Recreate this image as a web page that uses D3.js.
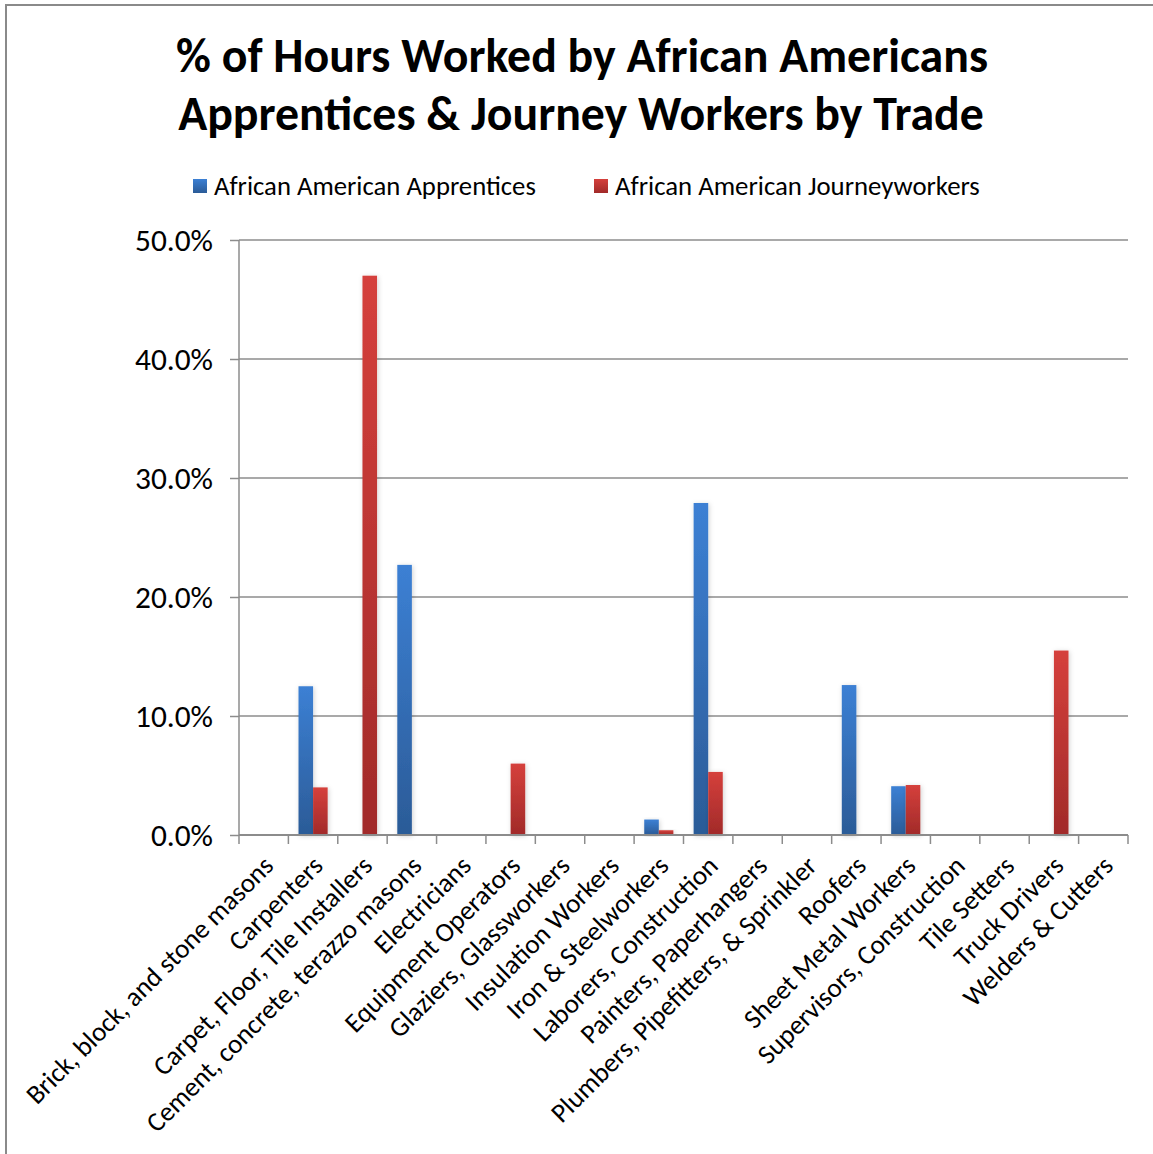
<!DOCTYPE html>
<html>
<head>
<meta charset="utf-8">
<script src="https://cdnjs.cloudflare.com/ajax/libs/d3/7.8.5/d3.min.js"></script>
<style>
  html, body { margin: 0; padding: 0; background: #fff; }
  svg { display: block; }
  text { font-family: Carlito, Calibri, Lato, "Open Sans", sans-serif; fill: #000; }
</style>
</head>
<body>
<svg id="chart" width="1153" height="1154"></svg>
<script>
// Trades along the horizontal axis
const trades = [
  "Brick, block, and stone masons",
  "Carpenters",
  "Carpet, Floor, Tile Installers",
  "Cement, concrete, terazzo masons",
  "Electricians",
  "Equipment Operators",
  "Glaziers, Glassworkers",
  "Insulation Workers",
  "Iron & Steelworkers",
  "Laborers, Construction",
  "Painters, Paperhangers",
  "Plumbers, Pipefitters, & Sprinkler",
  "Roofers",
  "Sheet Metal Workers",
  "Supervisors, Construction",
  "Tile Setters",
  "Truck Drivers",
  "Welders & Cutters"
];

// Share of hours worked (%), one value per trade
const apprentices = [0, 12.5, 0, 22.7, 0, 0, 0, 0, 1.3, 27.9, 0, 0, 12.6, 4.1, 0, 0, 0, 0];
const journeyworkers = [0, 4.0, 47.0, 0, 0, 6.0, 0, 0, 0.4, 5.3, 0, 0, 0, 4.2, 0, 0, 15.5, 0];

const seriesNames = ["African American Apprentices", "African American Journeyworkers"];
const yTicks = [0, 10, 20, 30, 40, 50];
const titleLines = ["% of Hours Worked by African Americans", "Apprentices & Journey Workers by Trade"];

const svg = d3.select("#chart");
const W = 1153, H = 1154;
const plot = { left: 239, right: 1128, top: 240, bottom: 835 };

// gradients for the two series
const defs = svg.append("defs");
const grads = [
  { id: "gA", top: "#3c80d4", bottom: "#2b5b97" },
  { id: "gJ", top: "#d5403c", bottom: "#a12a29" }
];
grads.forEach(g => {
  const lg = defs.append("linearGradient").attr("id", g.id)
    .attr("x1", 0).attr("y1", 0).attr("x2", 0).attr("y2", 1);
  lg.append("stop").attr("offset", "0%").attr("stop-color", g.top);
  lg.append("stop").attr("offset", "100%").attr("stop-color", g.bottom);
});
const shadow = defs.append("filter").attr("id", "shadow")
  .attr("x", "-50%").attr("y", "-10%").attr("width", "200%").attr("height", "120%");
shadow.append("feDropShadow").attr("dx", 1).attr("dy", 1).attr("stdDeviation", 2.5)
  .attr("flood-color", "#000").attr("flood-opacity", 0.18);

// outer frame (top and left edges)
svg.append("path")
  .attr("d", `M6,${H} L6,5 L${W},5`)
  .attr("fill", "none").attr("stroke", "#8a8a8a").attr("stroke-width", 2);

// helper to fit text to a target width
function fitWidth(sel, target) {
  const w = sel.node().getComputedTextLength();
  const fs = parseFloat(sel.attr("font-size"));
  sel.attr("font-size", fs * target / w);
}

// title
const t1 = svg.append("text").attr("x", 582).attr("y", 72).attr("text-anchor", "middle")
  .attr("font-size", 40).attr("font-weight", "bold").text(titleLines[0]);
fitWidth(t1, 812);
const t2 = svg.append("text").attr("x", 581).attr("y", 130).attr("text-anchor", "middle")
  .attr("font-size", 40).attr("font-weight", "bold").text(titleLines[1]);
fitWidth(t2, 806);

// scales
const x0 = d3.scaleBand().domain(trades).range([plot.left, plot.right]).padding(0);
const bw = x0.bandwidth();
const x1 = d3.scaleBand().domain(seriesNames).range([bw * 0.205, bw * 0.795]).padding(0);
const y = d3.scaleLinear().domain([0, 50]).range([plot.bottom, plot.top]);

// gridlines
svg.append("g").selectAll("line").data(yTicks.filter(d => d > 0)).join("line")
  .attr("x1", plot.left).attr("x2", plot.right)
  .attr("y1", d => y(d)).attr("y2", d => y(d))
  .attr("stroke", "#8c8c8c").attr("stroke-width", 1.5);

// y axis
const yAxis = svg.append("g").attr("transform", `translate(${plot.left},0)`)
  .call(d3.axisLeft(y).tickValues(yTicks).tickSize(9).tickPadding(17)
    .tickFormat(d => d3.format(".1f")(d) + "%"));
yAxis.select(".domain").attr("stroke", "#8c8c8c").attr("stroke-width", 1.5)
  .attr("d", `M0,${plot.top}V${plot.bottom}`);
yAxis.selectAll(".tick line").attr("stroke", "#8c8c8c").attr("stroke-width", 1.5);
yAxis.selectAll(".tick text").attr("font-size", 22).attr("fill", "#000")
  .attr("font-family", "Carlito, Calibri, Lato, sans-serif");
{
  const s = yAxis.select(".tick:last-of-type text");
  const w = s.node().getComputedTextLength();
  const fs = 22 * 78 / w;
  yAxis.selectAll(".tick text").attr("font-size", fs);
}

// bars
const rows = trades.map((t, i) => ({ trade: t, vals: [apprentices[i], journeyworkers[i]] }));
const groups = svg.append("g").selectAll("g").data(rows).join("g")
  .attr("transform", d => `translate(${x0(d.trade)},0)`);
groups.selectAll("rect")
  .data(d => d.vals.map((v, k) => ({ key: seriesNames[k], v, k })).filter(e => e.v > 0))
  .join("rect")
  .attr("x", e => x1(e.key))
  .attr("width", x1.bandwidth())
  .attr("y", e => y(e.v))
  .attr("height", e => y(0) - y(e.v))
  .attr("fill", e => `url(#${grads[e.k].id})`)
  .attr("filter", "url(#shadow)");

// x axis baseline and category boundary ticks
const xg = svg.append("g");
xg.append("line").attr("x1", plot.left).attr("x2", plot.right)
  .attr("y1", plot.bottom).attr("y2", plot.bottom)
  .attr("stroke", "#8c8c8c").attr("stroke-width", 2);
const bounds = trades.map(t => x0(t)).concat([plot.right]);
xg.selectAll("line.tk").data(bounds).join("line").attr("class", "tk")
  .attr("x1", d => d).attr("x2", d => d)
  .attr("y1", plot.bottom).attr("y2", plot.bottom + 9)
  .attr("stroke", "#8c8c8c").attr("stroke-width", 1.5);

// rotated category labels
const lbl = xg.selectAll("text.cat").data(trades).join("text").attr("class", "cat")
  .attr("font-size", 22)
  .attr("text-anchor", "end")
  .attr("transform", d => `translate(${x0(d) + bw / 2 - 2},${plot.bottom + 19}) rotate(-45)`)
  .attr("dy", "0.7em")
  .text(d => d);
{
  const w = lbl.filter((d, i) => i === 0).node().getComputedTextLength();
  lbl.attr("font-size", 22 * 337 / w);
}

// legend
const legend = svg.append("g");
const legItems = [
  { name: seriesNames[0], sx: 193, tx: 214, w: 322, g: 0 },
  { name: seriesNames[1], sx: 594, tx: 615, w: 365, g: 1 }
];
legItems.forEach(it => {
  legend.append("rect").attr("x", it.sx).attr("y", 179).attr("width", 14).attr("height", 14)
    .attr("fill", `url(#${grads[it.g].id})`);
  const tx = legend.append("text").attr("x", it.tx).attr("y", 195).attr("font-size", 22).text(it.name);
  fitWidth(tx, it.w);
});
</script>
</body>
</html>
